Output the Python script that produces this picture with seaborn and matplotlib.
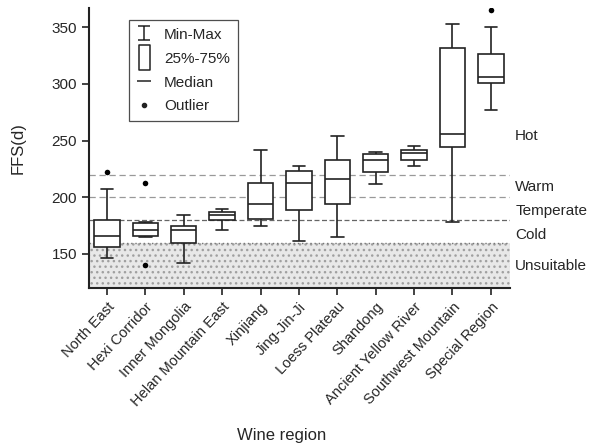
import numpy as np
import pandas as pd
import matplotlib
matplotlib.use("Agg")
import matplotlib.pyplot as plt
import seaborn as sns
from matplotlib.path import Path
from matplotlib.lines import Line2D

regions = ["North East", "Hexi Corridor", "Inner Mongolia", "Helan Mountain East",
           "Xinjiang", "Jing-Jin-Ji", "Loess Plateau", "Shandong",
           "Ancient Yellow River", "Southwest Mountain", "Special Region"]
ffs_min = [146, 165, 142, 171, 175, 161, 165, 212, 228, 178, 277]
ffs_q1 = [156, 166, 160, 180, 181, 189, 194, 222, 233, 244, 301]
ffs_median = [166, 171, 171, 184, 194, 213, 216, 233, 239, 256, 306]
ffs_q3 = [180, 177, 175, 187, 213, 223, 233, 238, 242, 332, 326]
ffs_max = [207, 178, 184, 190, 242, 228, 254, 240, 245, 353, 350]

outlier_regions = ["North East", "Hexi Corridor", "Hexi Corridor", "Special Region"]
outlier_values = [222, 213, 140, 365]

zone_bounds = [160, 180, 200, 220]
zone_labels = ["Hot", "Warm", "Temperate", "Cold", "Unsuitable"]
zone_label_y = [254, 209, 188, 167, 139]
yticks = [150, 200, 250, 300, 350]

rows = []
for r, a, b, c, d, e in zip(regions, ffs_min, ffs_q1, ffs_median, ffs_q3, ffs_max):
    for v in (a, b, c, d, e):
        rows.append({"region": r, "ffs": v})
df = pd.DataFrame(rows)
out_df = pd.DataFrame({"region": outlier_regions, "ffs": outlier_values})

sns.set_theme(style="ticks")
plt.rcParams["font.family"] = ["Liberation Sans", "DejaVu Sans"]
plt.rcParams["hatch.linewidth"] = 1.0

fig = plt.figure(figsize=(5.89, 4.43), dpi=100)
ax = fig.add_axes([0.151, 0.350, 0.715, 0.632])

# unsuitable shaded zone
ax.axhspan(118, zone_bounds[0], facecolor="#e8e8e8", edgecolor="#a0a0a0",
           hatch="...", linewidth=0, zorder=0)
ax.axhline(zone_bounds[0], color="#777777", linestyle=(0, (1, 2)), linewidth=1.0, zorder=1)
for yv, ls, col in zip(zone_bounds[1:], [(0, (4, 2)), (0, (5, 3)), (0, (5, 3))],
                       ["#666666", "#999999", "#999999"]):
    ax.axhline(yv, color=col, linestyle=ls, linewidth=0.9, zorder=1)

sns.boxplot(data=df, x="region", y="ffs", order=regions, whis=(0, 100),
            width=0.66, showfliers=False, color="white", linecolor="#222222",
            linewidth=1.2, ax=ax, zorder=3)
sns.stripplot(data=out_df, x="region", y="ffs", order=regions, jitter=False,
              color="black", size=4, ax=ax, zorder=4)

ax.set_xlim(-0.47, 10.5)
ax.set_ylim(120, 367)
ax.set_yticks(yticks)
ax.set_xlabel("Wine region", fontsize=12)
ax.xaxis.set_label_coords(0.458, -0.50)
ax.set_ylabel("FFS(d)", fontsize=12, labelpad=19)
ax.tick_params(axis="y", labelsize=11, length=5, width=1.2, color="#222222")
ax.tick_params(axis="x", labelsize=10.5, length=5, width=1.2, color="#222222")
plt.setp(ax.get_xticklabels(), rotation=47, ha="right", rotation_mode="anchor")
for s in ["top", "right"]:
    ax.spines[s].set_visible(False)
for s in ["left", "bottom"]:
    ax.spines[s].set_linewidth(1.5)
    ax.spines[s].set_color("#222222")

trans = ax.get_yaxis_transform()
for lab, yv in zip(zone_labels, zone_label_y):
    ax.text(1.012, yv, lab, transform=trans, fontsize=11, va="center", ha="left",
            clip_on=False)

# legend
ibar = Path([(-0.45, -0.5), (0.45, -0.5), (0, -0.5), (0, 0.5), (-0.45, 0.5), (0.45, 0.5)],
            [Path.MOVETO, Path.LINETO, Path.MOVETO, Path.LINETO, Path.MOVETO, Path.LINETO])
rect = Path([(-0.44, -1), (0.44, -1), (0.44, 1), (-0.44, 1), (-0.44, -1)],
            [Path.MOVETO, Path.LINETO, Path.LINETO, Path.LINETO, Path.CLOSEPOLY])
handles = [
    Line2D([], [], linestyle="none", marker=ibar, markersize=9.5, markeredgecolor="#222222",
           markerfacecolor="none", markeredgewidth=1.1),
    Line2D([], [], linestyle="none", marker=rect, markersize=18, markeredgecolor="#222222",
           markerfacecolor="white", markeredgewidth=1.1),
    Line2D([], [], linestyle="none", marker="_", markersize=9.5, markeredgecolor="#222222",
           markeredgewidth=1.1),
    Line2D([], [], linestyle="none", marker="o", markersize=3, color="#222222"),
]
leg = ax.legend(handles, ["Min-Max", "25%-75%", "Median", "Outlier"],
                loc="upper left", bbox_to_anchor=(0.095, 0.957), borderaxespad=0,
                fontsize=11, frameon=True, fancybox=False, labelspacing=0.65,
                handlelength=1.0, handletextpad=0.8, borderpad=0.5)
leg.get_frame().set_edgecolor("#222222")
leg.get_frame().set_linewidth(0.9)

fig.savefig("out.png", dpi=100)
